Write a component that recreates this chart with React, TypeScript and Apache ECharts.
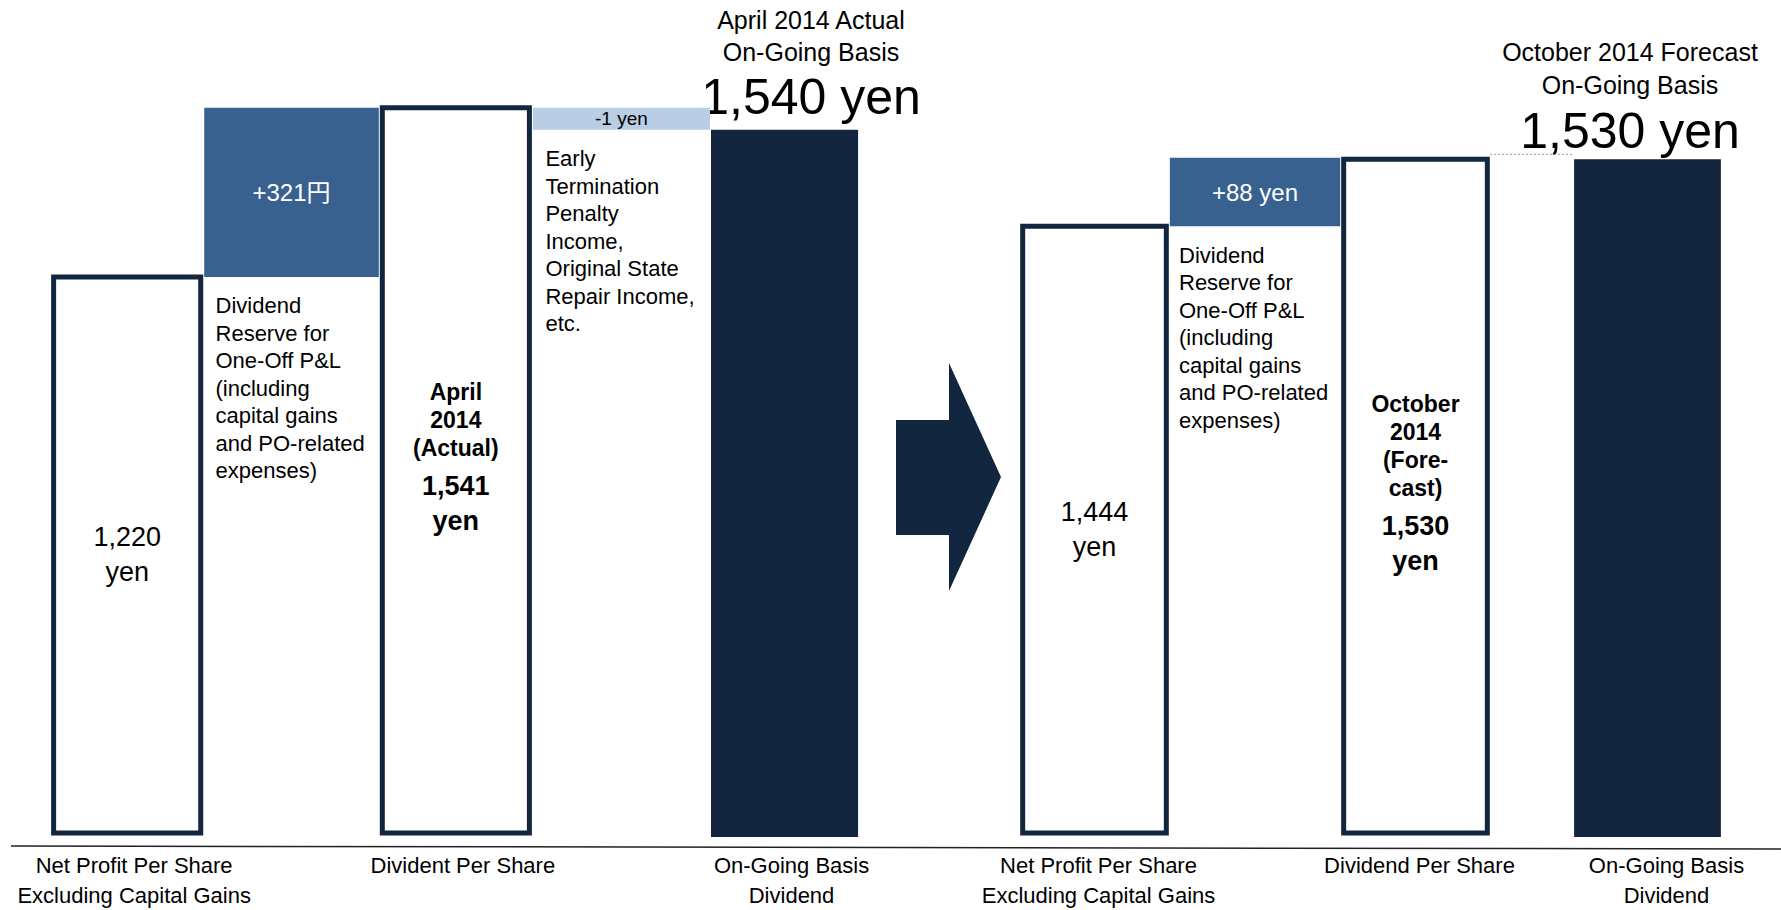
import React, { useEffect, useRef } from "react";
import * as echarts from "echarts";

// ---------- data ----------
// April 2014 actual (left panel)
const leftCategories = [
  "Net Profit Per Share\nExcluding Capital Gains",
  "",
  "Divident Per Share",
  "",
  "On-Going Basis\nDividend",
];
const leftValues = [1220, 321, 1541, -1, 1540];
const leftKinds = ["total", "delta", "total", "delta", "result"];
const leftUnits = [" yen", "円", " yen", " yen", " yen"];
const leftHeaders = ["", "", "April\n2014\n(Actual)", "", ""];
const leftNotes = [
  "",
  "Dividend\nReserve for\nOne-Off P&L\n(including\ncapital gains\nand PO-related\nexpenses)",
  "",
  "Early\nTermination\nPenalty\nIncome,\nOriginal State\nRepair Income,\netc.",
  "",
];

// October 2014 forecast (right panel)
const rightCategories = [
  "Net Profit Per Share\nExcluding Capital Gains",
  "",
  "Dividend Per Share",
];
const rightValues = [1444, 88, 1530];
const rightKinds = ["total", "delta", "total"];
const rightUnits = [" yen", " yen", " yen"];
const rightHeaders = ["", "", "October\n2014\n(Fore-\ncast)"];
const rightNotes = [
  "",
  "Dividend\nReserve for\nOne-Off P&L\n(including\ncapital gains\nand PO-related\nexpenses)",
  "",
];

const ongoingCategories = ["On-Going Basis\nDividend"];
const ongoingValues = [1530];
const ongoingKinds = ["result"];

const leftTitle = "April 2014 Actual\nOn-Going Basis";
const rightTitle = "October 2014 Forecast\nOn-Going Basis";

// ---------- styles ----------
const FONT = '"Liberation Sans", Arial, "Noto Sans CJK JP", sans-serif';
const NAVY = "#13263f";
const BLUE = "#386190";
const LIGHT = "#b9cde5";
const MIN_STEP = 22;

const fmt = (v: number) => Math.abs(v).toLocaleString("en-US");

function txt(x: number, y: number, text: string, size: number, o: any = {}) {
  const align = o.align ?? "center";
  const valign = o.valign ?? "middle";
  return {
    type: "text",
    x,
    y,
    silent: true,
    z2: 20,
    style: {
      text,
      fill: o.fill ?? "#000",
      fontSize: size,
      fontFamily: FONT,
      fontWeight: o.bold ? "bold" : "normal",
      lineHeight: o.lineHeight ?? Math.round(size * 1.25),
      align,
      verticalAlign: valign,
      textAlign: align,
      textVerticalAlign: valign,
    },
  };
}

function makeRenderItem(
  values: number[],
  kinds: string[],
  headers: string[],
  notes: string[],
  units: string[],
  connector = 0
) {
  return (params: any, api: any) => {
    const i = params.dataIndex;
    const cs = params.coordSys;
    const bottom = cs.y + cs.height;
    const band = api.size([1, 0])[0];
    const W = band * 0.895;
    const cx = (j: number) => api.coord([j, values[i]])[0];
    const py = (v: number) => api.coord([i, v])[1];
    const halfOuter = (j: number) =>
      kinds[j] === "total" ? W / 2 + 2.5 : kinds[j] === "result" ? W / 2 : 0;

    let level = 0;
    let levelPx = bottom;
    let top = bottom;
    let bot = bottom;
    for (let j = 0; j <= i; j++) {
      const k = kinds[j];
      const v = values[j];
      if (k === "total") {
        level = v;
        levelPx = py(v);
        top = levelPx;
        bot = bottom;
      } else if (k === "delta") {
        const y0 = levelPx;
        let y1 = py(level + v);
        if (Math.abs(y1 - y0) < MIN_STEP) y1 = y0 + (v < 0 ? MIN_STEP : -MIN_STEP);
        level += v;
        levelPx = y1;
        top = Math.min(y0, y1);
        bot = Math.max(y0, y1);
      } else {
        levelPx = j > 0 && Math.abs(level - v) < 1e-9 ? levelPx : py(v);
        level = v;
        top = levelPx;
        bot = bottom;
      }
    }

    const v = values[i];
    const k = kinds[i];
    const c = cx(i);
    const children: any[] = [];

    if (k === "total") {
      children.push({
        type: "rect",
        shape: { x: c - W / 2, y: top, width: W, height: bot - top },
        style: { fill: "#ffffff", stroke: NAVY, lineWidth: 5 },
      });
      const mid = (top + bot) / 2;
      const valueText = `${fmt(v)}\n${units[i].trim()}`;
      if (headers[i]) {
        const n = headers[i].split("\n").length;
        const H = 104.5 + (n - 1) * 28;
        const T = mid - 12 - H / 2;
        children.push(txt(c, T, headers[i], 23, { bold: true, lineHeight: 28, valign: "top" }));
        const lastC = T + 14 + (n - 1) * 28;
        children.push(
          txt(c, lastC + 38 - 17.5, valueText, 27, { bold: true, lineHeight: 35, valign: "top" })
        );
      } else {
        children.push(txt(c, mid, valueText, 27, { lineHeight: 35 }));
      }
    } else if (k === "delta") {
      const pos = v >= 0;
      const L = cx(i - 1) + halfOuter(i - 1) + 1;
      const R = cx(i + 1) - halfOuter(i + 1) - 1;
      children.push({
        type: "rect",
        shape: { x: L, y: top, width: R - L, height: bot - top },
        style: { fill: pos ? BLUE : LIGHT },
      });
      children.push(
        txt((L + R) / 2, (top + bot) / 2, `${pos ? "+" : "-"}${fmt(v)}${units[i]}`, pos ? 24 : 19, {
          fill: pos ? "#ffffff" : "#000",
        })
      );
      if (notes[i]) {
        children.push(
          txt((L + R) / 2 - 76, bot + 15, notes[i], 22, {
            align: "left",
            valign: "top",
            lineHeight: 27.5,
          })
        );
      }
    } else {
      children.push({
        type: "rect",
        shape: { x: c - W / 2, y: top, width: W, height: bot + 4 - top },
        style: { fill: NAVY },
      });
      if (connector) {
        children.push({
          type: "line",
          shape: { x1: c - W / 2 - connector, y1: top - 5, x2: c - W / 2, y2: top - 5 },
          style: { stroke: "#9a9a9a", lineWidth: 1, lineDash: [2, 2] },
        });
      }
    }
    return { type: "group", children };
  };
}

function xAxisOf(gridIndex: number, data: string[], shift: number) {
  return {
    type: "category",
    gridIndex,
    data,
    axisLine: { show: false },
    axisTick: { show: false },
    splitLine: { show: false },
    axisLabel: {
      interval: 0,
      color: "#000",
      fontSize: 22,
      lineHeight: 30,
      fontFamily: FONT,
      margin: 17,
      padding: [0, 0, 0, shift * 2],
    },
  };
}

function yAxisOf(gridIndex: number, min: number, max: number) {
  return { type: "value", gridIndex, min, max, show: false, splitLine: { show: false } };
}

function buildOption() {
  return {
    animation: false,
    backgroundColor: "#ffffff",
    textStyle: { fontFamily: FONT },
    grid: [
      { left: 45, top: 24, width: 821.7, height: 822 },
      { left: 1014.25, top: 24, width: 481.5, height: 822 },
      { left: 1565.5, top: 24, width: 164, height: 822 },
    ],
    xAxis: [
      xAxisOf(0, leftCategories, 7),
      xAxisOf(1, rightCategories, 4),
      xAxisOf(2, ongoingCategories, 19),
    ],
    yAxis: [yAxisOf(0, 165, 1700), yAxisOf(1, 664, 1704), yAxisOf(2, 664, 1704)],
    series: [
      {
        type: "custom",
        name: "April 2014 Actual",
        xAxisIndex: 0,
        yAxisIndex: 0,
        renderItem: makeRenderItem(leftValues, leftKinds, leftHeaders, leftNotes, leftUnits),
        data: leftValues.map((v, i) => [i, v]),
        encode: { x: 0, y: 1 },
      },
      {
        type: "custom",
        name: "October 2014 Forecast",
        xAxisIndex: 1,
        yAxisIndex: 1,
        renderItem: makeRenderItem(rightValues, rightKinds, rightHeaders, rightNotes, rightUnits),
        data: rightValues.map((v, i) => [i, v]),
        encode: { x: 0, y: 1 },
      },
      {
        type: "custom",
        name: "October 2014 On-Going",
        xAxisIndex: 2,
        yAxisIndex: 2,
        renderItem: makeRenderItem(ongoingValues, ongoingKinds, [""], [""], [" yen"], 84),
        data: ongoingValues.map((v, i) => [i, v]),
        encode: { x: 0, y: 1 },
      },
    ],
    graphic: [
      {
        type: "line",
        z: 5,
        shape: { x1: 11, y1: 846, x2: 1781, y2: 849 },
        style: { stroke: "#222222", lineWidth: 1.5 },
      },
      {
        type: "polygon",
        shape: {
          points: [
            [896, 420],
            [949, 420],
            [949, 363],
            [1001, 477],
            [949, 591],
            [949, 535],
            [896, 535],
          ],
        },
        style: { fill: NAVY },
      },
      txt(811, 4, leftTitle, 25, { lineHeight: 32, valign: "top" }),
      txt(811, 97, `${fmt(leftValues[leftValues.length - 1])} yen`, 50, { lineHeight: 56 }),
      txt(1630, 35.5, rightTitle, 25, { lineHeight: 33, valign: "top" }),
      txt(1630, 130.5, `${fmt(ongoingValues[0])} yen`, 50, { lineHeight: 56 }),
    ],
  };
}

export default function App() {
  const ref = useRef<HTMLDivElement>(null);
  useEffect(() => {
    document.body.style.margin = "0";
    const chart = echarts.init(ref.current as HTMLDivElement, null, { renderer: "svg" });
    chart.setOption(buildOption() as any);
    return () => chart.dispose();
  }, []);
  return <div ref={ref} style={{ width: 1781, height: 910 }} />;
}
